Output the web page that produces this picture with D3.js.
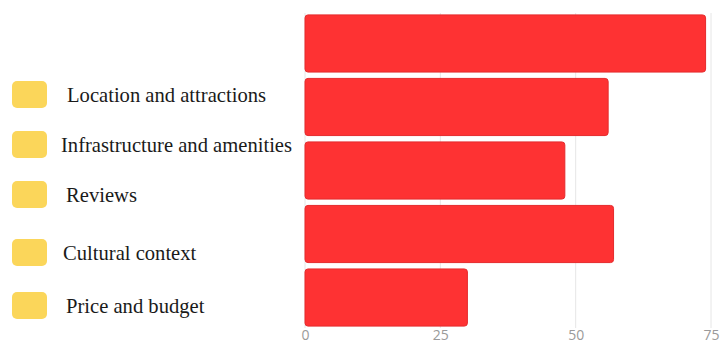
<!DOCTYPE html>
<html>
<head>
<meta charset="utf-8">
<script src="https://cdn.jsdelivr.net/npm/d3@7"></script>
<style>
  html, body { margin: 0; padding: 0; background: #fff; }
  svg { display: block; }
</style>
</head>
<body>
<svg id="chart" width="721" height="343"></svg>
<script>
// Bar values (top to bottom)
const barIds = ["b1", "b2", "b3", "b4", "b5"];
const barValues = [74, 56, 48, 57, 30];

// Legend entries
const legendLabels = [
  "Location and attractions",
  "Infrastructure and amenities",
  "Reviews",
  "Cultural context",
  "Price and budget"
];

// Axis ticks
const xTicks = [0, 25, 50, 75];

const svg = d3.select("#chart");

const x = d3.scaleLinear().domain([0, 75]).range([305, 711]);
const y = d3.scaleBand().domain(barIds).range([13, 328]).paddingInner(0.1).paddingOuter(0.03);

// Vertical grid lines
svg.append("g")
  .selectAll("line")
  .data(xTicks)
  .join("line")
  .attr("x1", d => x(d)).attr("x2", d => x(d))
  .attr("y1", 13).attr("y2", 328)
  .attr("stroke", "#e6e6e6")
  .attr("stroke-width", 1);

// Bars
svg.append("g")
  .selectAll("rect")
  .data(barValues)
  .join("rect")
  .attr("x", x(0))
  .attr("y", (d, i) => y(barIds[i]))
  .attr("width", d => x(d) - x(0))
  .attr("height", y.bandwidth())
  .attr("rx", 3)
  .attr("fill", "#fe3233")
  .attr("stroke", "#e52a2c")
  .attr("stroke-width", 1);

// X axis labels
const axis = d3.axisBottom(x).tickValues(xTicks).tickSize(0).tickPadding(0);
const ax = svg.append("g").attr("transform", "translate(0,330)").call(axis);
ax.select(".domain").remove();
ax.selectAll("text")
  .attr("dy", "0.7em")
  .attr("fill", "#9a9a9a")
  .style("font-family", "'Open Sans', sans-serif")
  .style("font-size", "14px");

// Legend
const legendCenters = [95, 145, 195, 253, 306];
const lg = svg.append("g")
  .selectAll("g")
  .data(legendLabels)
  .join("g")
  .attr("transform", (d, i) => `translate(0,${legendCenters[i]})`);

lg.append("rect")
  .attr("x", 12).attr("y", -14)
  .attr("width", 35).attr("height", 27)
  .attr("rx", 5)
  .attr("fill", "#fbd65a");

const labelX = [67, 61, 66, 63, 66];
lg.append("text")
  .attr("x", (d, i) => labelX[i])
  .attr("y", 0)
  .attr("dy", "0.35em")
  .attr("fill", "#1a1a1a")
  .style("font-family", "'Liberation Serif', 'Times New Roman', serif")
  .style("font-size", "20.6px")
  .text(d => d);
</script>
</body>
</html>
